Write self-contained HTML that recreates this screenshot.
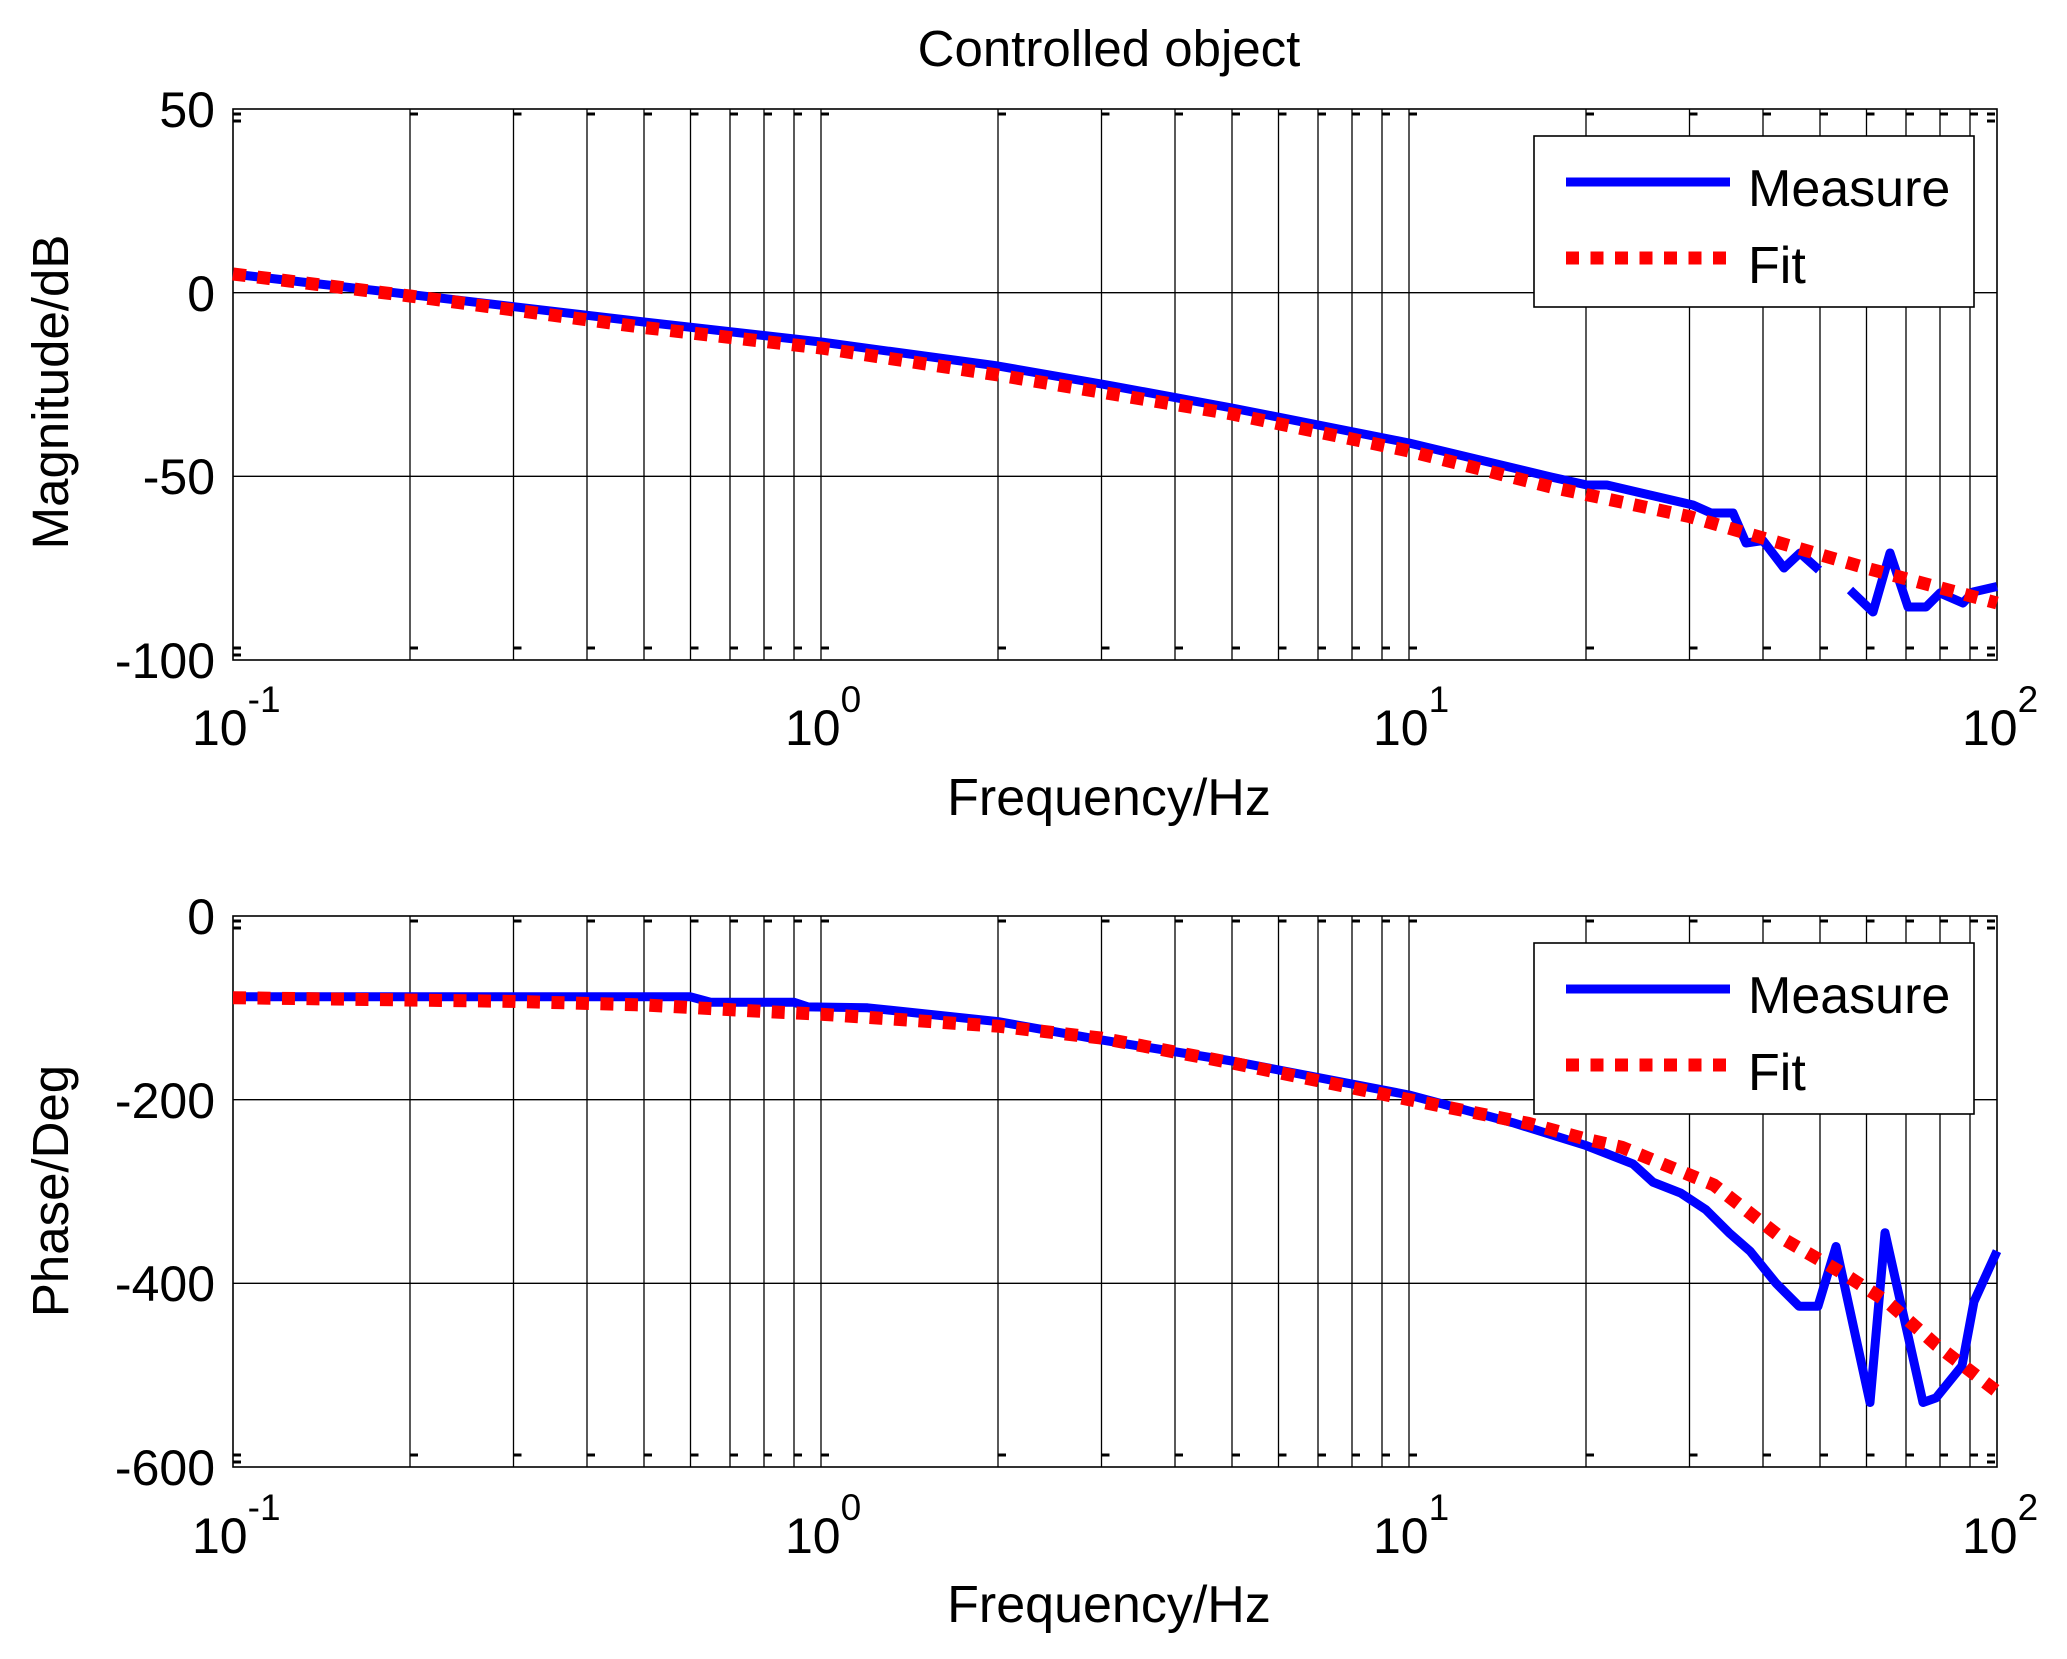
<!DOCTYPE html>
<html><head><meta charset="utf-8"><style>
html,body{margin:0;padding:0;background:#fff;}
svg{display:block;font-family:"Liberation Sans",Arial,sans-serif;}
</style></head><body>
<svg width="2067" height="1659" viewBox="0 0 2067 1659" xmlns="http://www.w3.org/2000/svg">
<rect width="2067" height="1659" fill="#fff"/>
<defs>
<g id="grid">
<path d="M410,0V551M513.5,0V551M587,0V551M644,0V551M690.5,0V551M730,0V551M764,0V551M794,0V551M821,0V551M998,0V551M1101.5,0V551M1175,0V551M1232,0V551M1278.5,0V551M1318,0V551M1352,0V551M1382,0V551M1409,0V551M1586,0V551M1689.5,0V551M1763,0V551M1820,0V551M1866.5,0V551M1906,0V551M1940,0V551M1970,0V551" stroke="#000" stroke-width="1.3" fill="none"/>
<path d="M233,183.7H1997M233,367.3H1997" stroke="#000" stroke-width="1.3"/>
<path d="M410,5h8M513.5,5h8M587,5h8M644,5h8M690.5,5h8M730,5h8M764,5h8M794,5h8M821,5h8M998,5h8M1101.5,5h8M1175,5h8M1232,5h8M1278.5,5h8M1318,5h8M1352,5h8M1382,5h8M1409,5h8M1586,5h8M1689.5,5h8M1763,5h8M1820,5h8M1866.5,5h8M1906,5h8M1940,5h8M1970,5h8M233,5h8M233,12h8M233,546h8M233,539h8M1987,5h8M1987,12h8M1987,546h8M1987,539h8M410,539h8M513.5,539h8M587,539h8M644,539h8M690.5,539h8M730,539h8M764,539h8M794,539h8M821,539h8M998,539h8M1101.5,539h8M1175,539h8M1232,539h8M1278.5,539h8M1318,539h8M1352,539h8M1382,539h8M1409,539h8M1586,539h8M1689.5,539h8M1763,539h8M1820,539h8M1866.5,539h8M1906,539h8M1940,539h8M1970,539h8" stroke="#000" stroke-width="3"/>
<rect x="233" y="0" width="1764" height="551" fill="none" stroke="#000" stroke-width="1.6"/>
</g>
<g id="legend">
<rect x="1534" y="136" width="440" height="171" fill="#fff" stroke="#000" stroke-width="1.6"/>
<line x1="1566" y1="182" x2="1730" y2="182" stroke="#0000ff" stroke-width="9"/>
<line x1="1566" y1="258" x2="1730" y2="258" stroke="#ff0000" stroke-width="13" stroke-dasharray="13 11.5"/>
<text x="1748" y="206" font-size="52">Measure</text>
<text x="1748" y="283" font-size="52">Fit</text>
</g>
</defs>

<text x="1109" y="66" font-size="51" text-anchor="middle">Controlled object</text>

<!-- TOP -->
<g transform="translate(0,109)"><use href="#grid"/></g>
<polyline fill="none" stroke="#0000ff" stroke-width="9" stroke-linejoin="round" points="233,274 410,294.5 644,322 821,342 998,366 1101.5,384 1232,408 1409,443 1551,477 1587,485 1607,485 1693,505 1711,513 1733,513 1746,543 1763,540.6 1784,568 1800,553 1819,570"/>
<polyline fill="none" stroke="#0000ff" stroke-width="9" stroke-linejoin="round" points="1850,590 1873,612 1890,553 1908,607 1926,607 1940,593 1963,603 1973,592 1997,586.5"/>
<polyline fill="none" stroke="#ff0000" stroke-width="13" stroke-dasharray="13 11.5" points="233,274 410,296 644,327.5 821,348 998,375 1232,414 1409,451 1551,487 1690,516.7 1763,538 1866,568 1997,603"/>
<use href="#legend"/>
<g font-size="50" text-anchor="end">
<text x="215" y="127">50</text>
<text x="215" y="311">0</text>
<text x="215" y="494">-50</text>
<text x="215" y="678">-100</text>
</g>
<g font-size="50">
<text x="192" y="745">10<tspan font-size="37" dy="-33">-1</tspan></text>
<text x="785" y="745">10<tspan font-size="37" dy="-33">0</tspan></text>
<text x="1373" y="745">10<tspan font-size="37" dy="-33">1</tspan></text>
<text x="1962" y="745">10<tspan font-size="37" dy="-33">2</tspan></text>
</g>
<text x="1109" y="815" font-size="52" text-anchor="middle">Frequency/Hz</text>
<text transform="translate(68,392) rotate(-90)" font-size="51" text-anchor="middle">Magnitude/dB</text>

<!-- BOTTOM -->
<g transform="translate(0,916)"><use href="#grid"/></g>
<polyline fill="none" stroke="#0000ff" stroke-width="9" stroke-linejoin="round" points="233,996.8 690.5,996.8 711,1002.3 794,1002.3 808,1006.9 867.5,1007.8 998,1021.6 1101.5,1039.9 1232,1061 1409,1095 1512.5,1122.6 1586,1145.5 1633,1163.9 1653,1182.2 1681,1193.2 1706,1209.8 1729,1232.7 1750,1251.1 1776,1283.2 1799,1306.2 1818,1306.2 1836,1246.5 1870,1402.5 1885,1232.7 1923,1402.5 1936,1397.9 1962,1365.8 1974,1301.6 1997,1251.1"/>
<polyline fill="none" stroke="#ff0000" stroke-width="13" stroke-dasharray="13 11.5" points="233,997.7 513.5,1001.4 644,1005 764,1011.5 821,1014.2 998,1026.2 1101.5,1038.1 1232,1062.9 1409,1099.6 1529,1123.5 1586,1139.1 1622,1147.3 1714,1185 1782,1238.2 1844,1274 1887,1301.6 1936,1344.7 1997,1391.5"/>
<g transform="translate(0,807)"><use href="#legend"/></g>
<g font-size="50" text-anchor="end">
<text x="215" y="934">0</text>
<text x="215" y="1118">-200</text>
<text x="215" y="1301">-400</text>
<text x="215" y="1485">-600</text>
</g>
<g font-size="50">
<text x="192" y="1553">10<tspan font-size="37" dy="-33">-1</tspan></text>
<text x="785" y="1553">10<tspan font-size="37" dy="-33">0</tspan></text>
<text x="1373" y="1553">10<tspan font-size="37" dy="-33">1</tspan></text>
<text x="1962" y="1553">10<tspan font-size="37" dy="-33">2</tspan></text>
</g>
<text x="1109" y="1622" font-size="52" text-anchor="middle">Frequency/Hz</text>
<text transform="translate(68,1191) rotate(-90)" font-size="51" text-anchor="middle">Phase/Deg</text>
</svg>
</body></html>
